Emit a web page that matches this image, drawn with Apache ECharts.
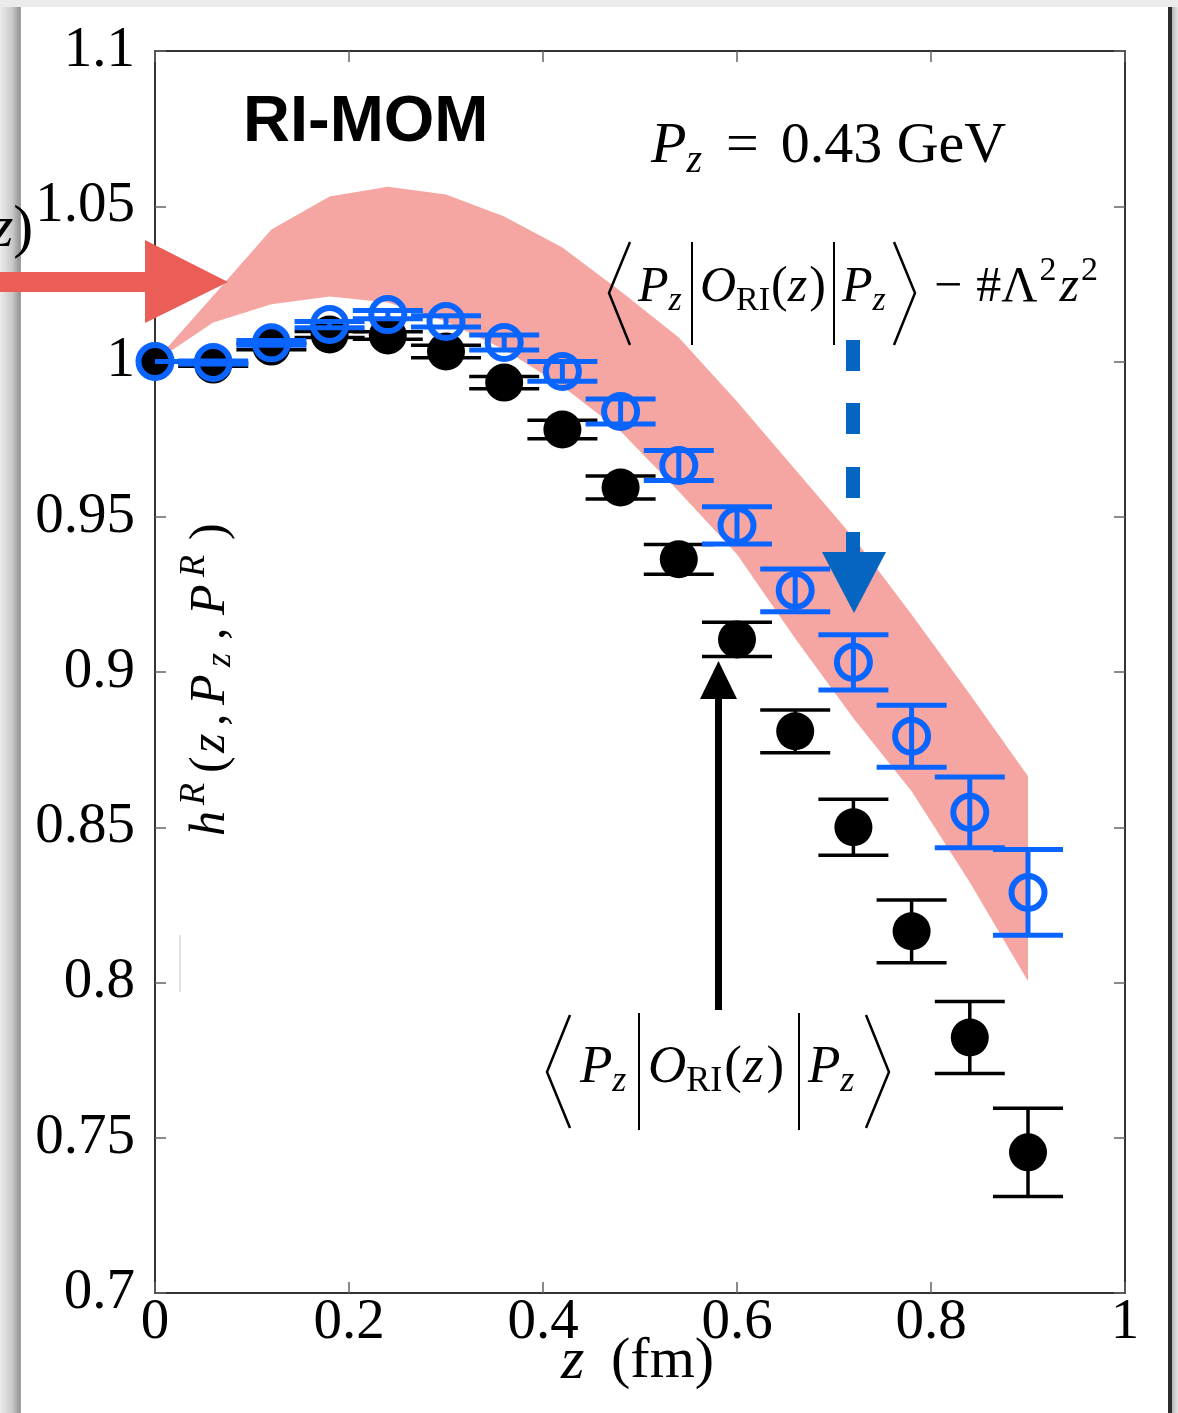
<!DOCTYPE html>
<html><head><meta charset="utf-8">
<script src="https://cdn.jsdelivr.net/npm/echarts@6/dist/echarts.min.js"></script>
<style>html,body{margin:0;padding:0;background:#fff}#c{width:1178px;height:1413px}</style>
</head><body><div id="c"></div>
<script>
// ---------- data ----------
const zVals      = [0, 0.06, 0.12, 0.18, 0.24, 0.30, 0.36, 0.42, 0.48, 0.54, 0.60, 0.66, 0.72, 0.78, 0.84, 0.90];
const blackVals  = [1.000, 0.999, 1.0048, 1.0087, 1.0084, 1.0032, 0.9932, 0.9781, 0.9594, 0.9363, 0.9105, 0.8809, 0.8500, 0.8165, 0.7823, 0.7453];
const blackErr   = [0, 0.0005, 0.001, 0.001, 0.0012, 0.002, 0.002, 0.003, 0.0037, 0.0048, 0.0055, 0.0069, 0.009, 0.0101, 0.0116, 0.0142];
const blueVals   = [1.000, 0.9997, 1.006, 1.0119, 1.0151, 1.0129, 1.0061, 0.9968, 0.9839, 0.9665, 0.9472, 0.9263, 0.9031, 0.8793, 0.8548, 0.8290];
const blueErr    = [0, 0.0005, 0.0008, 0.001, 0.0013, 0.0018, 0.0024, 0.0032, 0.004, 0.0048, 0.006, 0.0069, 0.0089, 0.0100, 0.0114, 0.0138];
const bandUpper  = [1.000, 1.0212, 1.0425, 1.0531, 1.0563, 1.0538, 1.0467, 1.0367, 1.0226, 1.0077, 0.9871, 0.9652, 0.9433, 0.9185, 0.8928, 0.8664];
const bandLower  = [1.000, 1.0126, 1.0184, 1.0209, 1.0190, 1.0129, 1.0039, 0.9920, 0.9775, 0.9581, 0.9379, 0.9108, 0.8851, 0.8616, 0.8323, 0.8004];
const xTicks = [0, 0.2, 0.4, 0.6, 0.8, 1];
const yTicks = [0.7, 0.75, 0.8, 0.85, 0.9, 0.95, 1, 1.05, 1.1];

// ---------- helpers ----------
const SERIF = '"Liberation Serif","Times New Roman",serif';
const mctx = document.createElement('canvas').getContext('2d');
function fontStr(s, it, w) { return (it ? 'italic ' : 'normal ') + (w || 'normal') + ' ' + s + 'px ' + SERIF; }
function tw(t, s, it) { mctx.font = fontStr(s, it); return mctx.measureText(t).width; }
function txt(t, x, y, s, it, extra) {
  return Object.assign({
    type: 'text', x: x, y: y, z: 100, silent: true,
    style: { text: t, font: fontStr(s, it), fill: '#000', align: 'left', verticalAlign: 'middle',
             textAlign: 'left', textVerticalAlign: 'middle' }
  }, extra || {});
}
// pieces: [text, size, italic, dy, gapBefore]
function row(x0, yc, pieces) {
  let x = x0; const out = [];
  for (const p of pieces) {
    const [t, s, it, dy, gap] = p;
    x += (gap || 0);
    out.push(txt(t, x, yc + (dy || 0), s, it));
    x += tw(t, s, it);
  }
  return out;
}
function pline(points, w, color) {
  return { type: 'polyline', z: 100, silent: true, shape: { points: points },
           style: { stroke: color || '#000', lineWidth: w, fill: null, lineJoin: 'miter' } };
}
function poly(points, color) {
  return { type: 'polygon', z: 100, silent: true, shape: { points: points }, style: { fill: color } };
}
function rect(x, y, w, h, fill, z) {
  return { type: 'rect', z: z === undefined ? 0 : z, silent: true, shape: { x: x, y: y, width: w, height: h }, style: { fill: fill } };
}
function fmt(v) { return String(parseFloat(v.toFixed(2))); }

function errRender(vals, errs, color, lw) {
  return function (params, api) {
    const x = api.value(0), y = api.value(1), e = api.value(2);
    const t = api.coord([x, y + e]), b = api.coord([x, y - e]);
    const hw = 35;
    const st = { stroke: color, lineWidth: lw };
    return { type: 'group', children: [
      { type: 'line', shape: { x1: t[0], y1: t[1], x2: b[0], y2: b[1] }, style: st },
      { type: 'line', shape: { x1: t[0] - hw, y1: t[1], x2: t[0] + hw, y2: t[1] }, style: st },
      { type: 'line', shape: { x1: b[0] - hw, y1: b[1], x2: b[0] + hw, y2: b[1] }, style: st }
    ]};
  };
}

// ---------- graphics (frame, arrows, annotations) ----------
const S = 50, SS = 34;
const S2 = 53, SS2 = 36;
const g = [];
// window frame
g.push(rect(0, 0, 1178, 7, '#ebebeb', 0));
g.push({ type: 'rect', z: 0, silent: true, shape: { x: 0, y: 7, width: 21, height: 1406 },
  style: { fill: new echarts.graphic.LinearGradient(0, 0, 1, 0, [
    { offset: 0, color: '#ececec' }, { offset: 0.6, color: '#c8c8c8' }, { offset: 0.92, color: '#979797' }, { offset: 1, color: '#a6a6a6' }]) } });
g.push(rect(1168, 7, 4, 1406, '#2b2b2b', 0));
g.push({ type: 'rect', z: 0, silent: true, shape: { x: 1172, y: 7, width: 6, height: 1406 },
  style: { fill: new echarts.graphic.LinearGradient(0, 0, 1, 0, [
    { offset: 0, color: '#b8b8b8' }, { offset: 1, color: '#e6e6e6' }]) } });
// faint artifact line
g.push({ type: 'line', z: 100, silent: true, shape: { x1: 180, y1: 935, x2: 180, y2: 992 }, style: { stroke: '#c4c4c4', lineWidth: 1 } });

// red arrow
g.push(poly([[0, 272], [145, 272], [145, 240], [228, 282], [145, 323], [145, 292], [0, 292]], '#eb5e58'));
// partial label at top-left
g.push(...row(-10, 230, [['z', 60, true], [')', 60, false]]));

// blue dashed arrow
[[340, 371], [403, 434], [467, 498], [532, 556]].forEach(d => g.push(rect(846, d[0], 14, d[1] - d[0], '#0565c0', 100)));
g.push(poly([[822, 552], [886, 552], [854, 613]], '#0565c0'));
// black arrow
g.push(rect(715, 694, 7, 316, '#000', 100));
g.push(poly([[700, 699], [737, 699], [718.5, 661]], '#000'));

// RI-MOM
g.push({ type: 'text', x: 243, y: 123, z: 100, silent: true,
  style: { text: 'RI-MOM', font: 'bold 65px "Liberation Sans", Arial, sans-serif', fill: '#000',
           align: 'left', verticalAlign: 'middle', textAlign: 'left', textVerticalAlign: 'middle' } });
// Pz = 0.43 GeV
g.push(...row(651, 147, [['P', 58, true], ['z', 40, true, 14], ['=', 58, false, 0, 24], ['0.43 GeV', 58, false, 0, 22]]));

// annotation 1: <Pz|O_RI(z)|Pz> - #Λ²z²
g.push(pline([[630, 242], [609, 293], [630, 345]], 2.5));
g.push(pline([[894, 242], [915, 293], [894, 345]], 2.5));
g.push(pline([[692, 242], [692, 345]], 2));
g.push(pline([[834, 242], [834, 345]], 2));
g.push(...row(638, 288, [['P', S, true], ['z', SS, true, 13]]));
g.push(...row(700, 288, [['O', S, true], ['RI', SS, false, 13], ['(', S, false, 0, 1], ['z', S, true], [')', S, false, 0, 2]]));
g.push(...row(842, 288, [['P', S, true], ['z', SS, true, 13]]));
g.push(...row(934, 288, [['\u2212', S, false], ['#\u039B', S, false, 0, 14], ['2', SS, false, -17, 2], ['z', S, true, 0, 3], ['2', SS, false, -17, 2]]));

// annotation 2: <Pz|O_RI(z)|Pz>
g.push(pline([[570, 1015], [547, 1072], [570, 1128]], 2.5));
g.push(pline([[866, 1015], [889, 1072], [866, 1128]], 2.5));
g.push(pline([[639, 1013], [639, 1130]], 2));
g.push(pline([[799, 1013], [799, 1130]], 2));
g.push(...row(580, 1068, [['P', S2, true], ['z', SS2, true, 14]]));
g.push(...row(648, 1068, [['O', S2, true], ['RI', SS2, false, 14], ['(', S2, false, 0, 2], ['z', S2, true, 0, 1], [')', S2, false, 0, 3]]));
g.push(...row(808, 1068, [['P', S2, true], ['z', SS2, true, 14]]));

// x axis name
g.push(txt('z', 561, 1362, 60, true));
g.push(txt('(fm)', 611, 1362, 58, false));

// y axis name (rotated)
const yl = [['h', 0, 50, true, 0], ['R', 31, 36, true, -16], ['(', 63, 50, false, 0], ['z', 83, 50, true, 0], [',', 110, 50, false, 0],
            ['P', 131, 50, true, 0], ['z', 169, 36, true, 10], [',', 196, 50, false, 0], ['P', 221, 50, true, 0], ['R', 259, 36, true, -16], [')', 296, 50, false, 0]];
g.push({ type: 'group', x: 227, y: 836, rotation: Math.PI / 2, z: 100,
  children: yl.map(p => txt(p[0], p[1], -16 + p[4], p[2], p[3])) });

// ---------- chart ----------
const chart = echarts.init(document.getElementById('c'), null, { width: 1178, height: 1413 });
const axisLineStyle = { color: '#333', width: 2 };
const tickStyle = { color: '#666', width: 1.5 };
chart.setOption({
  animation: false,
  backgroundColor: '#fff',
  grid: { left: 155, right: 53, top: 51, bottom: 120, containLabel: false },
  xAxis: [
    { type: 'value', min: 0, max: 1, interval: 0.2, position: 'bottom',
      axisLine: { show: true, onZero: false, lineStyle: axisLineStyle },
      axisTick: { show: true, inside: true, length: 11, lineStyle: tickStyle },
      splitLine: { show: false },
      axisLabel: { show: true, margin: 2, color: '#000', fontFamily: SERIF, fontSize: 57, formatter: fmt, showMinLabel: true, showMaxLabel: true } },
    { type: 'value', min: 0, max: 1, interval: 0.2, position: 'top',
      axisLine: { show: true, onZero: false, lineStyle: axisLineStyle },
      axisTick: { show: true, inside: true, length: 11, lineStyle: tickStyle },
      splitLine: { show: false }, axisLabel: { show: false } }
  ],
  yAxis: [
    { type: 'value', min: 0.7, max: 1.1, interval: 0.05, position: 'left',
      axisLine: { show: true, onZero: false, lineStyle: axisLineStyle },
      axisTick: { show: true, inside: true, length: 11, lineStyle: tickStyle },
      splitLine: { show: false },
      axisLabel: { show: true, margin: 20, color: '#000', fontFamily: SERIF, fontSize: 57, formatter: fmt,
                   showMinLabel: true, showMaxLabel: true, padding: [0, 0, 10, 0] } },
    { type: 'value', min: 0.7, max: 1.1, interval: 0.05, position: 'right',
      axisLine: { show: true, onZero: false, lineStyle: axisLineStyle },
      axisTick: { show: true, inside: true, length: 11, lineStyle: tickStyle },
      splitLine: { show: false }, axisLabel: { show: false } }
  ],
  graphic: { elements: g },
  series: [
    { type: 'custom', name: 'band', silent: true, z: 1, clip: true,
      data: zVals.map((z, i) => [z, bandLower[i], bandUpper[i]]),
      renderItem: function (params, api) {
        if (params.dataIndex !== 0) return null;
        const pts = [];
        for (let i = 0; i < zVals.length; i++) pts.push(api.coord([zVals[i], bandUpper[i]]));
        for (let i = zVals.length - 1; i >= 0; i--) pts.push(api.coord([zVals[i], bandLower[i]]));
        return { type: 'polygon', shape: { points: pts }, style: { fill: '#f5a6a3' } };
      } },
    { type: 'custom', name: 'blackErr', silent: true, z: 3, clip: true,
      data: zVals.map((z, i) => [z, blackVals[i], blackErr[i]]),
      renderItem: errRender(blackVals, blackErr, '#000', 3.5) },
    { type: 'scatter', name: 'black', silent: true, z: 4, symbol: 'circle', symbolSize: 38,
      itemStyle: { color: '#000', opacity: 1 },
      data: zVals.map((z, i) => [z, blackVals[i]]) },
    { type: 'custom', name: 'blueErr', silent: true, z: 5, clip: true,
      data: zVals.map((z, i) => [z, blueVals[i], blueErr[i]]),
      renderItem: errRender(blueVals, blueErr, '#0a64ff', 5) },
    { type: 'scatter', name: 'blue', silent: true, z: 6, symbol: 'circle', symbolSize: 33,
      itemStyle: { color: 'rgba(255,255,255,0)', borderColor: '#0a64ff', borderWidth: 6, opacity: 1 },
      data: zVals.map((z, i) => [z, blueVals[i]]) }
  ]
});
</script>
</body></html>
